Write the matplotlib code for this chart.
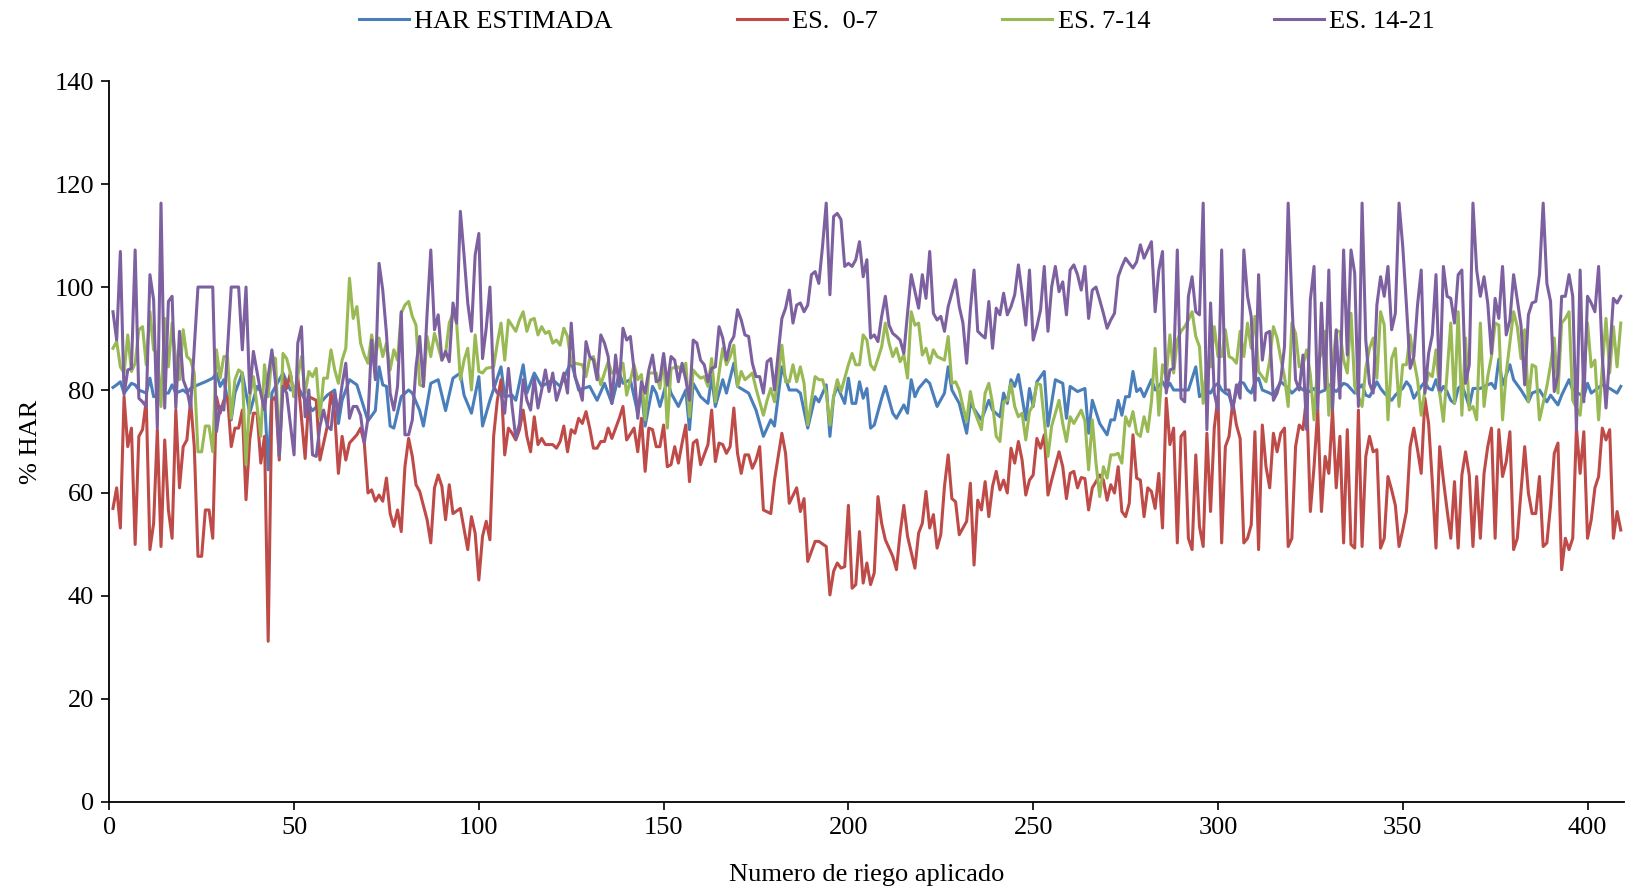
import matplotlib
matplotlib.use("Agg")
import matplotlib.pyplot as plt

# valores: (numero de riego, % HAR)
har_estimada = [
    (1, 80.5), (2, 81), (3, 81.6), (4, 79.4), (6, 81.3), (7, 81), (8, 80), (10, 79.4), (11, 82.3), (12, 78.7),
    (14, 79.4), (16, 79.4), (17, 81), (18, 79.4), (20, 80), (21, 79.4), (22, 80.3), (24, 81), (26, 81.6), (28, 82.3),
    (29, 83.3), (30, 80.7), (31, 82), (33, 74.2), (34, 79.4), (36, 83.3), (38, 75.5), (40, 80.7), (42, 78.7), (43, 64.5),
    (44, 79.4), (46, 82), (47, 83.3), (49, 80), (51, 80.7), (53, 78), (55, 76), (57, 77.4), (59, 79), (61, 80),
    (62, 73.5), (63, 78), (65, 82), (67, 81), (68, 78.7), (70, 74), (72, 76), (73, 84.5), (74, 81), (75, 80.7),
    (76, 73), (77, 72.6), (79, 78.7), (81, 80), (82, 79.4), (84, 76), (85, 73), (87, 81.3), (89, 82), (91, 76),
    (93, 82.3), (95, 83.3), (96, 79), (98, 75.5), (100, 82.6), (101, 73), (103, 78), (106, 84.5), (107, 78.7), (109, 79),
    (110, 78), (112, 84.9), (113, 79.4), (115, 83.3), (117, 80.7), (120, 82), (122, 80.7), (125, 85.5), (127, 80), (130, 80.7),
    (132, 78), (134, 81.3), (136, 77.4), (138, 83.3), (139, 81.3), (141, 82), (143, 75.5), (144, 80), (145, 73), (147, 80.7),
    (148, 79.4), (149, 76.8), (151, 82), (152, 79.4), (154, 76.8), (156, 80), (157, 72.3), (158, 81.3), (160, 78.7), (162, 77.4),
    (163, 82.6), (164, 76.8), (166, 82), (167, 79.4), (169, 85.2), (170, 80.7), (173, 79.4), (175, 76.1), (177, 71), (179, 74.2),
    (180, 73), (182, 84.5), (184, 80), (186, 80), (187, 79.4), (189, 72.6), (191, 78.7), (192, 77.7), (194, 81), (195, 71),
    (196, 78.7), (197, 80.7), (199, 77.4), (200, 82.3), (201, 77.4), (202, 77.4), (203, 81.6), (204, 78.4), (205, 80.3), (206, 72.6),
    (207, 73.2), (209, 78.4), (210, 80.7), (212, 75.5), (213, 74.5), (215, 77.1), (216, 75.5), (217, 82), (218, 78.7), (219, 80.3),
    (221, 82), (222, 81.3), (224, 76.8), (226, 79.4), (227, 84.5), (228, 80), (230, 77.4), (232, 71.6), (233, 77.4), (236, 74.2),
    (238, 78), (239, 76.1), (241, 74.8), (242, 79.4), (243, 77.4), (244, 82), (245, 80.7), (246, 83), (248, 74.2), (249, 80.3),
    (250, 76.8), (251, 81.6), (253, 83.6), (254, 73), (256, 82), (258, 81.3), (259, 74.5), (260, 80.7), (262, 79.7), (264, 80.3),
    (265, 71.6), (266, 78), (268, 73.5), (270, 71.3), (271, 74.2), (272, 74.2), (273, 78), (274, 75.1), (275, 78.7), (276, 78.7),
    (277, 83.6), (278, 79.7), (279, 80.3), (280, 78.7), (282, 82), (283, 80), (285, 81.6), (286, 80.3), (287, 81.3), (288, 80),
    (290, 80), (292, 80), (294, 84.5), (295, 78.7), (297, 80), (298, 79.4), (299, 80.7), (300, 81.3), (301, 80), (302, 79.4),
    (303, 79), (304, 76.5), (305, 80), (306, 81.6), (307, 81.3), (308, 80), (309, 79.4), (310, 81.6), (311, 82.3), (312, 80),
    (313, 79.7), (314, 79.4), (315, 79), (316, 80.3), (317, 81.6), (318, 81), (319, 80.3), (320, 79.4), (322, 80.7), (323, 80),
    (325, 79.7), (326, 80.3), (327, 79.4), (329, 80), (330, 81), (331, 80.3), (332, 79.7), (334, 81.3), (335, 81), (337, 79.4),
    (338, 80.3), (339, 81), (340, 79), (341, 78.7), (342, 80), (343, 81.6), (344, 80.3), (345, 79.4), (347, 78), (348, 79),
    (350, 80.3), (351, 81.6), (352, 80.7), (353, 78.4), (355, 80.7), (356, 81.6), (357, 80.3), (358, 80), (359, 82), (360, 79.4),
    (361, 80.7), (362, 79.7), (363, 78), (364, 77.4), (365, 80.3), (366, 81), (367, 79), (368, 76.8), (369, 80.3), (371, 80.3),
    (372, 80.7), (374, 81.3), (375, 80.3), (376, 86), (377, 81), (379, 84.9), (380, 82), (382, 80), (384, 77.7), (385, 79.4),
    (387, 80), (389, 77.7), (390, 79), (392, 77.1), (393, 79), (395, 82), (396, 80), (399, 78.7), (400, 81.3), (401, 79.4),
    (404, 81), (406, 80.3), (408, 79.4), (409, 80.7),
]

es_0_7 = [
    (1, 57), (2, 61), (3, 53.2), (4, 78.7), (5, 69), (6, 72.6), (7, 50), (8, 71), (9, 72.3), (10, 78),
    (11, 49), (12, 54.1), (13, 72.3), (14, 49.6), (15, 70.3), (16, 56.7), (17, 51.2), (18, 76.1), (19, 61), (20, 69),
    (21, 70.3), (22, 78), (23, 69), (24, 47.7), (25, 47.7), (26, 56.7), (27, 56.7), (28, 51.2), (29, 78.7), (30, 75.5),
    (31, 78), (32, 78.7), (33, 69), (34, 72.6), (35, 72.6), (36, 76.1), (37, 58.7), (38, 70.3), (39, 75.5), (40, 75.5),
    (41, 65.8), (42, 71), (43, 31.2), (44, 78), (45, 78.7), (46, 66.4), (47, 82.6), (48, 80.3), (49, 83.3), (50, 78.7),
    (51, 82.6), (53, 66.7), (54, 78.7), (56, 78), (57, 66.4), (59, 73), (60, 79.4), (61, 75.5), (62, 63.8), (63, 71),
    (64, 66.4), (65, 69.7), (67, 71.3), (68, 72.6), (69, 69.7), (70, 60), (71, 60.6), (72, 58.4), (73, 59.6), (74, 58.4),
    (75, 62.9), (76, 56), (77, 53.5), (78, 56.7), (79, 52.5), (80, 65.1), (81, 70.6), (82, 67.1), (83, 61.6), (84, 60.3),
    (86, 54.8), (87, 50.3), (88, 61), (89, 63.5), (90, 61.3), (91, 54.8), (92, 61.6), (93, 56), (95, 57), (97, 49),
    (98, 55.4), (99, 52.2), (100, 43.1), (101, 51.6), (102, 54.5), (103, 50.9), (104, 71), (105, 78), (106, 82), (107, 67.4),
    (108, 72.6), (109, 71.6), (110, 70.3), (111, 72.3), (112, 76.1), (113, 71), (114, 68), (115, 74.8), (116, 69.4), (117, 70.6),
    (118, 69.4), (120, 69.4), (121, 68.7), (122, 70), (123, 73), (124, 68), (125, 72.3), (126, 71.6), (127, 74.5), (128, 73.5),
    (129, 75.8), (130, 72.6), (131, 68.7), (132, 68.7), (133, 70), (134, 70), (135, 72.6), (136, 70.6), (138, 74.5), (139, 76.8),
    (140, 70.3), (142, 72.6), (143, 68), (144, 74.5), (145, 64.2), (146, 72.6), (147, 72.3), (148, 69), (149, 69), (150, 73.2),
    (151, 65.1), (152, 65.5), (153, 69), (154, 65.8), (155, 69.7), (156, 73.2), (157, 62.2), (158, 69.7), (159, 70.3), (160, 65.5),
    (162, 69.4), (163, 76.1), (164, 66.1), (165, 69.7), (166, 69.4), (167, 67.7), (168, 69), (169, 76.5), (170, 67.7), (171, 63.8),
    (172, 67.4), (173, 67.4), (174, 64.8), (175, 66.4), (176, 69), (177, 56.7), (179, 56), (180, 62.5), (182, 71.6), (183, 67.7),
    (184, 58), (186, 61), (187, 56.4), (188, 58.9), (189, 46.7), (191, 50.6), (192, 50.6), (194, 49.6), (195, 40.2), (196, 44.8),
    (197, 46.4), (198, 45.4), (199, 45.7), (200, 57.6), (201, 41.5), (202, 42.2), (203, 52.5), (204, 42.5), (205, 46.4), (206, 42.2),
    (207, 44.5), (208, 59.3), (209, 54.1), (210, 50.9), (212, 47.7), (213, 45.1), (214, 52.2), (215, 57.6), (216, 51.6), (218, 45.4),
    (219, 52.2), (220, 54.1), (221, 60.3), (222, 53.2), (223, 55.8), (224, 49.3), (225, 51.9), (226, 61.3), (227, 67.4), (228, 58.9),
    (229, 58.3), (230, 51.9), (231, 53.2), (232, 54.5), (233, 61.9), (234, 46), (235, 58.6), (236, 56.7), (237, 62.2), (238, 55.4),
    (239, 61.3), (240, 64.2), (241, 60.6), (242, 62.5), (243, 60), (244, 68.7), (245, 65.8), (246, 70), (247, 66.4), (248, 59.6),
    (249, 62.5), (250, 63.5), (251, 70.6), (252, 68.7), (253, 71.3), (254, 59.6), (255, 62.5), (257, 68), (258, 65.1), (259, 58.9),
    (260, 63.8), (261, 64.2), (262, 61), (263, 63), (264, 62.8), (265, 56.7), (266, 61), (267, 62.2), (268, 63.5), (269, 62.5),
    (270, 58.6), (271, 61.6), (272, 60), (273, 65.1), (274, 56.4), (275, 55.4), (276, 58), (277, 71.3), (278, 62.9), (279, 62.5),
    (280, 55.4), (281, 61), (282, 60.3), (283, 57), (284, 63.8), (285, 53.2), (286, 78.4), (287, 69.4), (288, 72.6), (289, 50.3),
    (290, 71), (291, 71.9), (292, 51.2), (293, 49), (294, 67.4), (295, 53.5), (296, 49.6), (297, 71.6), (298, 56.4), (299, 72.6),
    (300, 78.7), (301, 50.3), (302, 69), (303, 71), (304, 77.7), (305, 73.2), (306, 70.6), (307, 50.3), (308, 51.2), (309, 53.8),
    (310, 71.9), (311, 49), (312, 73.2), (313, 65.1), (314, 61), (315, 71.6), (316, 68), (317, 71.6), (318, 72.6), (319, 49.6),
    (320, 51.2), (321, 69), (322, 73.2), (323, 72.3), (324, 78.7), (325, 56.4), (326, 65.1), (327, 76.1), (328, 56.4), (329, 67.1),
    (330, 63.8), (331, 76.1), (332, 61), (333, 71), (334, 50.3), (335, 72.3), (336, 50), (337, 49.3), (338, 76.1), (339, 49.6),
    (340, 67.1), (341, 71), (342, 68), (343, 68.4), (344, 49.3), (345, 51.2), (346, 63.2), (347, 60.6), (348, 57.6), (349, 49.6),
    (350, 52.8), (351, 56.4), (352, 69), (353, 72.6), (354, 68.4), (355, 63.8), (356, 78.4), (357, 73.5), (358, 62.2), (359, 49.3),
    (360, 69), (361, 62.5), (362, 56.7), (363, 51.2), (364, 62.2), (365, 49.3), (366, 63.5), (367, 68), (368, 63.5), (369, 49.6),
    (370, 63.2), (371, 51.2), (372, 63.8), (373, 69), (374, 72.6), (375, 51.2), (376, 72.3), (377, 63.2), (378, 66.1), (379, 71.9),
    (380, 49), (381, 51.2), (382, 60.3), (383, 69), (384, 60), (385, 56), (386, 56), (387, 63.2), (388, 49.6), (389, 50.3),
    (390, 57.6), (391, 67.7), (392, 69.7), (393, 45.1), (394, 51.2), (395, 49), (396, 51.2), (397, 72.6), (398, 63.8), (399, 71.9),
    (400, 51.2), (401, 54.8), (402, 61), (403, 63.2), (404, 72.6), (405, 70.3), (406, 72.3), (407, 51.2), (408, 56.4), (409, 52.8),
]

es_7_14 = [
    (1, 88.1), (2, 89.4), (3, 84.5), (4, 83.3), (5, 90.7), (6, 83.6), (7, 85.2), (8, 91.7), (9, 92.3), (10, 84.9),
    (11, 95.2), (12, 87.8), (13, 87.1), (14, 76.8), (15, 93.9), (16, 84.5), (17, 93), (18, 85.8), (19, 82), (20, 91.7),
    (21, 86.5), (22, 85.8), (23, 83.3), (24, 68), (25, 68), (26, 73), (27, 73), (28, 68), (29, 87.8), (30, 82.3),
    (31, 86.5), (32, 86.5), (33, 74.5), (34, 82), (35, 83.9), (36, 83.3), (37, 65.5), (38, 78.7), (39, 82.6), (41, 71),
    (42, 84.9), (43, 78.7), (44, 86.5), (45, 86.1), (46, 67.1), (47, 87.1), (48, 86.1), (49, 83.3), (50, 78.7), (52, 86.5),
    (53, 79.4), (54, 83.6), (55, 82.6), (56, 84.2), (57, 74.5), (58, 82.3), (59, 82.3), (60, 87.8), (61, 83.9), (62, 81.3),
    (63, 85.8), (64, 88.1), (65, 101.7), (66, 93.9), (67, 96.2), (68, 89.1), (69, 86.8), (70, 85.2), (71, 90.7), (72, 86.5),
    (73, 90.1), (74, 86.5), (75, 89.1), (76, 83.9), (77, 87.8), (78, 85.8), (79, 94.9), (80, 96.5), (81, 97.2), (82, 94.3),
    (83, 92.6), (84, 81), (85, 80.7), (86, 90.4), (87, 86.5), (88, 91), (89, 88.4), (90, 85.8), (91, 87.1), (92, 93),
    (93, 94.9), (94, 93), (95, 82), (96, 85.8), (97, 88.1), (98, 80), (99, 90.7), (100, 83.6), (101, 83.3), (102, 84.2),
    (104, 84.5), (105, 89.1), (106, 93), (107, 85.8), (108, 93.6), (110, 91.4), (111, 93.6), (112, 95.2), (113, 91.4), (114, 93.6),
    (115, 93.9), (116, 90.7), (117, 92.3), (118, 91), (119, 91.4), (120, 89.1), (121, 89.7), (122, 88.7), (123, 92), (124, 90.4),
    (125, 85.2), (126, 85.2), (128, 84.9), (129, 82.6), (130, 86.1), (131, 86.5), (133, 81), (134, 83.3), (135, 85.5), (136, 83.3),
    (138, 83.6), (139, 85.2), (140, 79), (142, 84.9), (143, 82), (144, 83), (145, 74.2), (146, 83.3), (148, 83.3), (149, 80.3),
    (150, 86.8), (151, 72.6), (152, 84.2), (154, 84.5), (155, 83.6), (156, 85.2), (157, 74.8), (158, 83.9), (159, 83), (160, 82.3),
    (161, 82.6), (162, 80.7), (163, 86.1), (164, 77.7), (165, 83.3), (166, 88.1), (167, 84.9), (168, 86.5), (169, 88.7), (170, 80.7),
    (171, 83.6), (172, 82), (173, 82.6), (174, 83.3), (175, 80.3), (177, 75.1), (178, 78), (179, 80.3), (180, 77.7), (181, 82.6),
    (182, 88.7), (183, 81.6), (184, 81.6), (185, 84.9), (186, 81.6), (187, 84.5), (188, 81.3), (189, 73.2), (190, 78), (191, 82.6),
    (192, 82), (193, 82), (194, 79.4), (195, 73.2), (196, 78.7), (197, 82), (198, 79.7), (199, 82.3), (200, 84.9), (201, 87.1),
    (202, 84.9), (203, 84.9), (204, 90.7), (205, 89.7), (206, 84.9), (207, 83.9), (208, 86.1), (209, 88.4), (210, 93), (211, 89.1),
    (212, 86.5), (213, 88.1), (214, 85.5), (215, 86.8), (216, 82.3), (217, 95.2), (218, 92.6), (219, 93), (220, 86.8), (221, 88.1),
    (222, 85.2), (223, 87.8), (224, 86.5), (226, 85.8), (227, 90.4), (228, 81.3), (229, 81.6), (230, 80), (231, 76.8), (232, 73.9),
    (233, 79.7), (234, 76.1), (236, 72.3), (237, 79.4), (238, 81.3), (239, 77.4), (240, 71), (241, 70), (242, 77.7), (243, 78),
    (244, 81.3), (245, 76.8), (246, 74.8), (247, 75.5), (248, 70.3), (249, 75.8), (250, 77.1), (251, 81.3), (252, 81), (254, 67.1),
    (255, 73), (256, 75.5), (257, 78), (258, 73.5), (259, 70), (260, 74.8), (261, 73.5), (262, 74.8), (263, 76.1), (264, 74),
    (265, 64.5), (266, 74.2), (267, 65.8), (268, 59.3), (269, 65.1), (270, 62.9), (271, 67.4), (272, 67.4), (273, 67.7), (274, 65.8),
    (275, 74.8), (276, 73), (277, 75.8), (278, 71.6), (279, 71), (280, 74.8), (281, 71.9), (282, 77.7), (283, 88.1), (284, 75.1),
    (285, 84.9), (286, 82.6), (287, 90.7), (288, 83.3), (289, 89.7), (290, 91.4), (291, 92.3), (292, 93.6), (293, 95.2), (294, 90.4),
    (295, 88.4), (296, 77.4), (297, 85.2), (298, 84.5), (299, 92.3), (300, 86.5), (301, 86.5), (302, 91.7), (303, 86.5), (304, 86.1),
    (305, 85.2), (306, 91.4), (307, 86.5), (308, 93), (309, 88.1), (310, 94.3), (311, 83.6), (313, 81.6), (314, 85.8), (315, 92.3),
    (316, 90.1), (317, 86.1), (318, 82.6), (319, 76.8), (320, 93), (321, 91), (322, 84.5), (323, 84.9), (324, 87.8), (325, 83),
    (326, 74.2), (327, 85.5), (328, 87.1), (329, 91.4), (330, 75.1), (331, 84.5), (332, 91.4), (333, 91.4), (334, 85.8), (335, 83.3),
    (336, 94.9), (337, 80.7), (339, 76.8), (340, 84.2), (341, 88.1), (342, 90.1), (343, 82.3), (344, 95.2), (345, 92.6), (346, 74.2),
    (347, 86.1), (348, 88.1), (349, 76.8), (350, 84.9), (351, 84.9), (352, 90.7), (353, 85.8), (354, 82), (355, 75.1), (356, 80),
    (357, 83.3), (358, 82.6), (359, 87.8), (360, 79.4), (361, 73.9), (362, 83.3), (363, 93), (364, 77.4), (365, 95.2), (366, 75.1),
    (367, 90.1), (368, 76.1), (369, 76.8), (370, 74.2), (371, 93), (372, 76.8), (373, 82.6), (374, 86.5), (375, 93), (376, 92.6),
    (377, 74.2), (378, 83.3), (380, 95.2), (381, 92.3), (382, 86.1), (383, 91.7), (384, 77.7), (385, 84.9), (386, 84.5), (387, 74.2),
    (389, 80.7), (390, 84.9), (391, 90.1), (392, 79.4), (393, 93), (394, 93.9), (395, 95.2), (396, 78), (398, 75.1), (399, 83.3),
    (400, 93), (401, 84.5), (402, 85.8), (403, 74.2), (404, 84.5), (405, 93.9), (406, 83.3), (407, 92.3), (408, 84.5), (409, 93),
]

es_14_21 = [
    (1, 95.2), (2, 89.7), (3, 106.9), (4, 79.1), (5, 83.9), (6, 84.2), (7, 107.2), (8, 78.4), (9, 77.7), (10, 76.8),
    (11, 102.4), (12, 97.5), (13, 72.6), (14, 116.3), (15, 76.5), (16, 97.2), (17, 98.2), (18, 76.5), (19, 91.4), (20, 82),
    (21, 80), (22, 76.5), (23, 88.4), (24, 100), (25, 100), (26, 100), (27, 100), (28, 100), (29, 71.9), (30, 76.8),
    (31, 76.1), (33, 100), (34, 100), (35, 100), (36, 87.8), (37, 100), (38, 79.4), (39, 87.5), (41, 79.4), (42, 76.1),
    (43, 82.6), (44, 87.8), (45, 81.3), (46, 67.1), (47, 80.7), (48, 79.4), (50, 67.4), (51, 89.1), (52, 92.3), (53, 74.8),
    (54, 80), (55, 67.4), (56, 67.1), (57, 73), (58, 76.1), (59, 73), (60, 72.3), (61, 79.4), (62, 75.5), (63, 81),
    (64, 85.2), (65, 74.5), (66, 76.8), (67, 76.8), (68, 75.1), (69, 69.7), (70, 74.5), (71, 89.7), (72, 82), (73, 104.6),
    (74, 99.4), (75, 91), (76, 79.4), (77, 76.1), (78, 80.7), (79, 95.2), (80, 71.3), (81, 71.3), (82, 74.2), (83, 84.5),
    (84, 90.4), (85, 80.7), (86, 94.9), (87, 107.2), (88, 91.7), (89, 94.6), (90, 85.8), (91, 87.5), (92, 85.5), (93, 96.9),
    (94, 93), (95, 114.7), (96, 106.2), (97, 96.9), (98, 91.4), (99, 106.2), (100, 110.4), (101, 86.1), (102, 92), (103, 100),
    (104, 80.7), (105, 79.4), (106, 79.4), (107, 75.5), (108, 84.2), (109, 76.8), (110, 70.6), (111, 73.5), (112, 82), (113, 78),
    (114, 76.1), (115, 82.3), (116, 76.5), (117, 80), (118, 83.9), (119, 79.7), (120, 83.3), (121, 78), (122, 80.3), (123, 83.3),
    (124, 79.4), (125, 93), (126, 82.6), (127, 80.7), (128, 78), (129, 89.4), (130, 86.5), (131, 85.8), (132, 82), (133, 90.7),
    (134, 89.1), (135, 86.5), (136, 77.4), (137, 86.8), (138, 80.7), (139, 92), (140, 89.7), (141, 90.4), (142, 83.9), (143, 74.5),
    (144, 81.6), (145, 79.4), (146, 83.9), (147, 86.8), (148, 81.6), (149, 82), (150, 87.1), (151, 81), (152, 86.5), (153, 85.8),
    (154, 81.6), (155, 85.2), (156, 82), (157, 78), (158, 89.7), (159, 89.1), (160, 85.8), (161, 84.9), (162, 81.6), (163, 84.2),
    (164, 84.5), (165, 92.3), (166, 90.1), (167, 85.8), (168, 89.1), (169, 90.4), (170, 95.6), (171, 93.6), (172, 90.7), (173, 90.4),
    (174, 85.2), (175, 82.6), (176, 82.6), (177, 79.4), (178, 85.5), (179, 86.1), (180, 80), (181, 87.1), (182, 93.9), (183, 95.9),
    (184, 99.4), (185, 93), (186, 96.5), (187, 96.9), (188, 95.2), (189, 96.5), (190, 102.4), (191, 103), (192, 100.7), (193, 107.9),
    (194, 116.3), (195, 98.5), (196, 113.7), (197, 114.3), (198, 113.1), (199, 104), (200, 104.6), (201, 104), (202, 105.3), (203, 108.8),
    (204, 102), (205, 105.3), (206, 90.1), (207, 90.7), (208, 89.4), (209, 94.3), (210, 98.2), (211, 92.6), (212, 91), (213, 90.4),
    (214, 89.7), (215, 87.1), (216, 94.9), (217, 102.4), (218, 99.1), (219, 95.9), (220, 102.4), (221, 97.8), (222, 106.9), (223, 94.9),
    (224, 93.6), (225, 94.3), (226, 91.4), (227, 96.2), (229, 101.4), (230, 96.2), (231, 93), (232, 85.2), (233, 95.6), (234, 103.3),
    (235, 91.4), (236, 90.7), (237, 90.1), (238, 97.2), (239, 88.1), (240, 95.9), (241, 94.6), (242, 98.8), (243, 94.6), (244, 96.2),
    (245, 98.5), (246, 104.3), (247, 98.8), (248, 92.6), (249, 103.3), (250, 89.7), (251, 92.3), (252, 95.6), (253, 104), (254, 91.4),
    (255, 100), (256, 104), (257, 99.1), (258, 101), (259, 94.6), (260, 103.3), (261, 104.3), (262, 102.4), (263, 99.4), (264, 104),
    (265, 93.9), (266, 99.4), (267, 100), (268, 97.5), (269, 94.9), (270, 92), (271, 93.6), (272, 94.9), (273, 102), (274, 104),
    (275, 105.6), (276, 104.6), (277, 103.7), (278, 104.9), (279, 108.2), (280, 105.6), (281, 107.2), (282, 108.8), (283, 95.2), (284, 103.3),
    (285, 106.9), (286, 79.4), (287, 83.9), (288, 84.2), (289, 107.2), (290, 78.4), (291, 77.7), (292, 98.2), (293, 102), (294, 95.2),
    (295, 94.6), (296, 116.3), (297, 72.3), (298, 96.9), (299, 79.4), (300, 76.1), (301, 107.2), (302, 80), (303, 80), (304, 76.1),
    (305, 81), (306, 78.4), (307, 107.2), (308, 98.2), (309, 94.3), (310, 78), (311, 102.4), (312, 85.8), (313, 91), (314, 91.4),
    (315, 78), (316, 79.4), (317, 82), (318, 88.4), (319, 116.3), (320, 97.2), (321, 82), (322, 80), (323, 86.8), (324, 72.3),
    (325, 97.5), (326, 104), (327, 76.1), (328, 96.9), (329, 80.3), (330, 103.3), (331, 76.1), (332, 91.7), (333, 78.4), (334, 107.2),
    (335, 86.8), (336, 107.2), (337, 102.7), (338, 76.8), (339, 116.3), (340, 89.7), (341, 81.3), (342, 79.4), (343, 96.5), (344, 102),
    (345, 98.2), (346, 104), (347, 91.7), (348, 94.9), (349, 116.3), (350, 107.9), (351, 96.5), (352, 84.2), (353, 86.5), (354, 96.5),
    (355, 103.3), (356, 79.4), (357, 87.1), (358, 90.7), (359, 102.4), (360, 80), (361, 104), (362, 98.2), (363, 97.8), (364, 93),
    (365, 102.4), (366, 103.3), (367, 81.3), (368, 84.9), (369, 116.3), (370, 103.3), (371, 98.2), (372, 102), (373, 96.9), (374, 87.1),
    (375, 97.8), (376, 93.9), (377, 104), (378, 90.7), (379, 93.6), (380, 102.4), (381, 97.5), (382, 92.6), (383, 81), (384, 94.6),
    (385, 96.9), (386, 97.2), (387, 102.4), (388, 116.3), (389, 100.7), (390, 97.2), (391, 79.7), (392, 83), (393, 98.2), (394, 98.2),
    (395, 102.4), (396, 98.2), (397, 72.3), (398, 103.3), (399, 77.7), (400, 98.2), (401, 96.9), (402, 95.2), (403, 104), (404, 86.5),
    (405, 76.5), (406, 86.8), (407, 97.8), (408, 96.9), (409, 98.2),
]

series = [
    ("HAR ESTIMADA", har_estimada, "#4a7ebb"),
    ("ES.  0-7", es_0_7, "#be4b48"),
    ("ES. 7-14", es_7_14, "#98b954"),
    ("ES. 14-21", es_14_21, "#7d60a0"),
]

plt.rcParams["font.family"] = ["Liberation Serif", "DejaVu Serif"]

fig = plt.figure(figsize=(16.31, 8.91), dpi=100)
ax = fig.add_axes([0.067, 0.1, 0.929, 0.809])

for name, data, color in series:
    xs, ys = zip(*data)
    ax.plot(xs, ys, color=color, linewidth=2.2, label=name)

ax.set_xlim(0, 410)
ax.set_ylim(0, 140)
ax.set_xticks(range(0, 401, 50))
ax.set_yticks(range(0, 141, 20))
ax.tick_params(labelsize=19, length=6, width=1.2, direction="out", pad=5)
for s in ("top", "right"):
    ax.spines[s].set_visible(False)
for s in ("left", "bottom"):
    ax.spines[s].set_linewidth(1.3)

ax.set_xlabel("Numero de riego aplicado", fontsize=19, labelpad=18)
ax.set_ylabel("% HAR", fontsize=19, labelpad=9)

fig.legend(loc="center", bbox_to_anchor=(0.55, 0.976), ncol=4, frameon=False,
           fontsize=19, handlelength=1.9, handletextpad=0.2, columnspacing=4.7)

fig.savefig("out.png", dpi=100)
